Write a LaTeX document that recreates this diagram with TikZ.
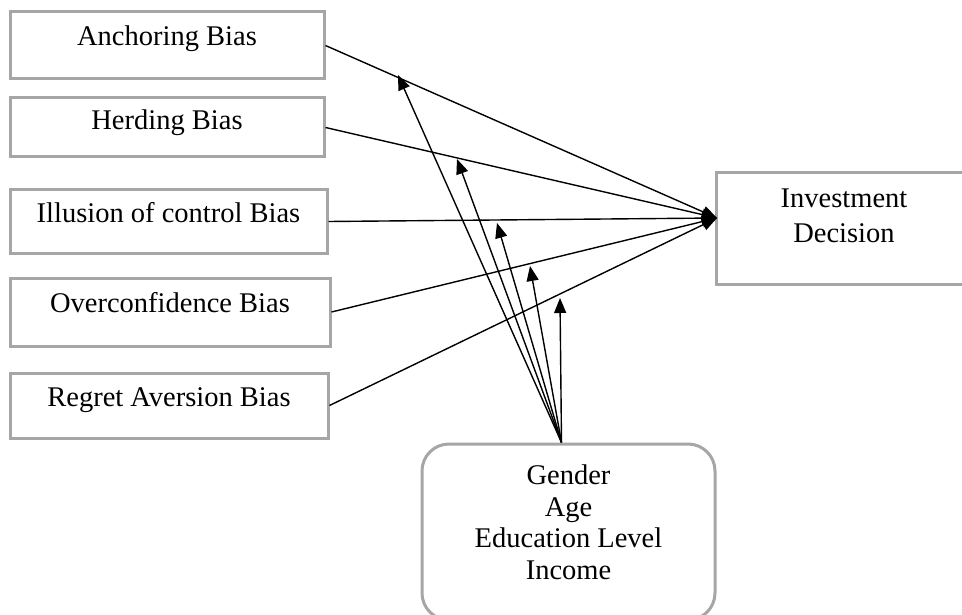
\documentclass[tikz,border=0pt]{standalone}
\usepackage{fontspec}
\setmainfont{Liberation Serif}
\usetikzlibrary{arrows.meta}

\begin{document}
\begin{tikzpicture}[x=1pt,y=-1pt,line width=1.4pt]
   \tikzset{box/.style 2 args={draw=gray!70, line width=3pt, minimum width=#1, minimum height=#2, inner sep=0pt, text height=0.7em, text depth=0.52em, font=\fontsize{28.5}{34}\selectfont}};
   \tikzset{arr/.style={-{Triangle[length=15pt,width=12pt]}}};

\clip (0,0) rectangle (962,615);

\node[box={314}{67}, text depth=0.7em] (0) at (167,45.5) {Anchoring Bias};
\node[box={314}{59}, text depth=0.3em] (1) at (167,127.5) {Herding Bias};
\node[box={317}{63}] (2) at (168.5,221.5) {Illusion of control Bias};
\node[box={320}{68}, text depth=0.66em] (3) at (170,312) {Overconfidence Bias};
\node[box={318}{65}] (4) at (169,405.5) {Regret Aversion Bias};

\node[box={256}{111}, align=center, text height=55pt, text depth=28pt, font=\fontsize{28.5}{35}\selectfont] (5) at (844,228.5) {Investment\\Decision};

\node[box={293}{176}, rounded corners=27pt, align=center, text height=114pt, text depth=20pt, font=\fontsize{28.5}{31.4}\selectfont] (6) at (568.5,532) {Gender\\Age\\Education Level\\Income};

\coordinate (d) at (717,218);
\coordinate (m1) at (398,75);
\coordinate (m2) at (457,159);
\coordinate (m3) at (497,223);
\coordinate (m4) at (530,266);
\coordinate (m5) at (560,298);
%-
%Eb--------------------------

\foreach \i in {0,...,4}{
    \draw (\i.east) edge[arr] (d);
}

%Em--------------------------

\foreach \j in {1,...,5}{
    \draw ([xshift=-7pt]6.north) edge[arr] (m\j);
}

\end{tikzpicture}
\end{document}
